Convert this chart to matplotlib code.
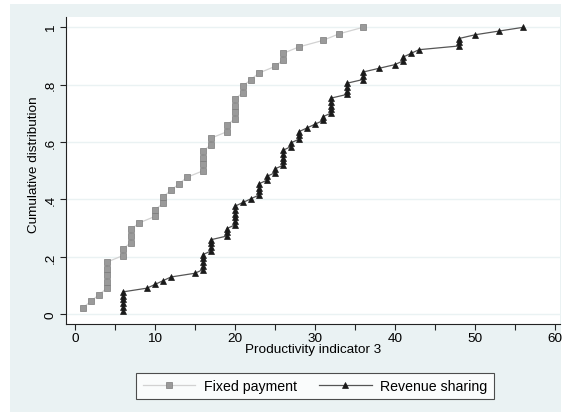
import numpy as np
import matplotlib
matplotlib.use("Agg")
import matplotlib.pyplot as plt
from matplotlib.patches import Rectangle
from matplotlib.ticker import MultipleLocator

# raw observations (productivity indicator 3) per group
fixed_vals = [1, 2, 3, 4, 4, 4, 4, 4, 6, 6, 7, 7, 7, 8, 10, 10, 11, 11, 12, 13, 14,
              16, 16, 16, 16, 17, 17, 19, 19, 20, 20, 20, 20, 21, 21, 22, 23, 25,
              26, 26, 28, 31, 33, 36]
revenue_vals = [6, 6, 6, 6, 6, 6, 9, 10, 11, 12, 15, 16, 16, 16, 16, 16, 17, 17, 17, 17,
                19, 19, 19, 20, 20, 20, 20, 20, 20, 21, 22, 23, 23, 23, 23, 24, 24,
                25, 25, 26, 26, 26, 26, 26, 27, 27, 28, 28, 28, 29, 30, 31, 31,
                32, 32, 32, 32, 32, 34, 34, 34, 34, 36, 36, 36, 38, 40, 41, 41, 42,
                43, 48, 48, 48, 50, 53, 56]

labels = ["Fixed payment", "Revenue sharing"]
x_ticks = [0, 10, 20, 30, 40, 50, 60]
y_ticks = [0, 0.2, 0.4, 0.6, 0.8, 1.0]
y_ticklabels = ["0", ".2", ".4", ".6", ".8", "1"]


def cumul(vals):
    x = np.sort(np.asarray(vals, dtype=float))
    y = np.arange(1, len(x) + 1) / len(x)
    return x, y


bg = "#eaf2f3"
fs = 9.7
plt.rcParams["font.family"] = ["Liberation Sans", "DejaVu Sans"]

fig = plt.figure(figsize=(5.68, 4.14), dpi=100, facecolor="white")
# graph region (Stata style bluish-gray background)
fig.patches.append(Rectangle((10 / 568, 1 / 414), 551 / 568, 408 / 414,
                             transform=fig.transFigure, facecolor=bg,
                             edgecolor="none", zorder=-10))

ax = fig.add_axes([0.1162, 0.215, 0.8697, 0.7415])
ax.set_facecolor("white")

xf, yf = cumul(fixed_vals)
xr, yr = cumul(revenue_vals)

ax.plot(xf, yf, color="#d2d2d2", lw=0.9, marker="s", ms=4.3,
        mfc="#9a9a9a", mec="#7a7a7a", mew=0.5, label=labels[0], zorder=3)
ax.plot(xr, yr, color="#555555", lw=0.9, marker="^", ms=5,
        mfc="#1a1a1a", mec="#1a1a1a", mew=0.5, label=labels[1], zorder=4)

ax.set_xlim(-1.125, 60.625)
ax.set_ylim(-0.034, 1.036)
ax.set_xticks(x_ticks)
ax.xaxis.set_minor_locator(MultipleLocator(5))
ax.set_yticks(y_ticks)
ax.set_yticklabels(y_ticklabels, rotation=90, va="center")
ax.grid(axis="y", color=bg, lw=1.0, zorder=0)
ax.set_axisbelow(True)

for s in ["top", "right"]:
    ax.spines[s].set_visible(False)
for s in ["left", "bottom"]:
    ax.spines[s].set_color("#222222")
    ax.spines[s].set_linewidth(0.8)

ax.tick_params(axis="both", which="both", direction="out", color="#222222",
               labelsize=fs, width=0.8, length=4.5)
ax.tick_params(axis="x", pad=1)
ax.tick_params(axis="y", pad=2)

ax.set_xlabel("Productivity indicator 3", fontsize=fs)
ax.set_ylabel("Cumulative distribution", fontsize=fs)
ax.xaxis.set_label_coords(0.5, -0.062)
ax.yaxis.set_label_coords(-0.0535, 0.521)

leg = fig.legend(loc="center", bbox_to_anchor=(315 / 568, 1 - 387 / 414), ncol=2,
                 fontsize=10.2, frameon=True, fancybox=False, handlelength=3.7,
                 columnspacing=1.6, borderpad=0.45, handletextpad=0.6)
leg.get_frame().set_edgecolor("#222222")
leg.get_frame().set_linewidth(0.8)

fig.savefig("out.png", dpi=100, facecolor="white")
